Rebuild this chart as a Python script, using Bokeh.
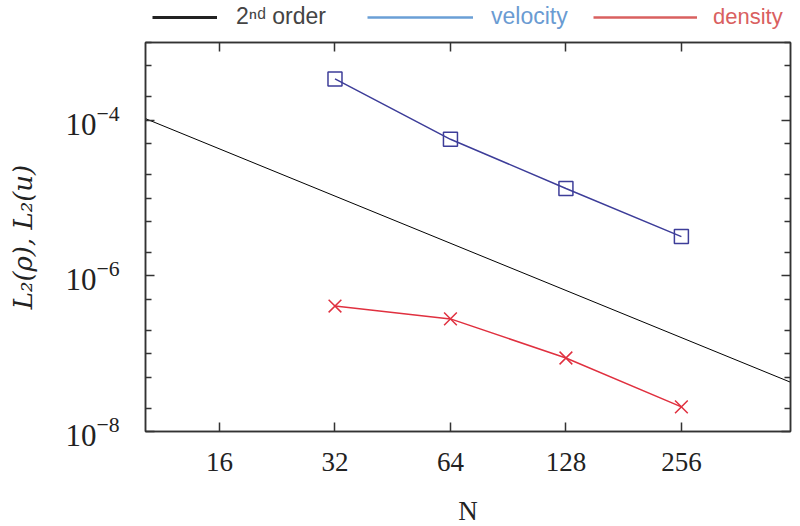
from bokeh.plotting import figure
from bokeh.layouts import column
from bokeh.models import (FixedTicker, LogAxis, LogTickFormatter, PrintfTickFormatter,
                          Legend, LegendItem, CustomJSTickFormatter)
from bokeh.embed import file_html
from bokeh.resources import INLINE

# ---- data ----
N = [32, 64, 128, 256]
velocity = [3.4e-4, 5.7e-5, 1.33e-5, 3.2e-6]
density = [4.1e-7, 2.8e-7, 8.8e-8, 2.07e-8]
ref_N = [10.26, 492.8]
ref_err = [1.05e-4, 4.3e-8]

x_ticks = [16, 32, 64, 128, 256]
y_major = [1e-8, 1e-6, 1e-4]
y_minor = [2e-8, 5e-8, 1e-7, 2e-7, 5e-7, 2e-6, 5e-6, 1e-5, 2e-5, 5e-5, 2e-4, 5e-4, 1e-3]

legend_labels = ["2\u207f\u1d48 order", "velocity", "density"]

AX = "#333333"
SERIF = "Liberation Serif"
SANS = "Liberation Sans"

p = figure(x_axis_type="log", y_axis_type="log",
           x_range=(10.26, 492.8), y_range=(1e-8, 1e-3),
           frame_width=645, frame_height=389,
           min_border_left=145, min_border_top=6, min_border_right=5, min_border_bottom=90,
           output_backend="svg", toolbar_location=None)
p.grid.visible = False
p.outline_line_color = AX
p.outline_line_width = 1.5
p.background_fill_color = "white"

xt = FixedTicker(ticks=x_ticks)
yt = FixedTicker(ticks=y_major, minor_ticks=y_minor)
blank = CustomJSTickFormatter(code="return ''")

def style(ax, ticker, labels=True):
    ax.ticker = ticker
    ax.axis_line_color = AX
    ax.axis_line_width = 1.5
    ax.major_tick_line_color = AX
    ax.major_tick_line_width = 1.5
    ax.minor_tick_line_color = AX
    ax.minor_tick_line_width = 1.5
    ax.major_tick_in = 9
    ax.major_tick_out = 0
    ax.minor_tick_in = 6
    ax.minor_tick_out = 0
    if not labels:
        ax.formatter = blank
        ax.major_label_standoff = 0

xa = p.xaxis[0]
style(xa, xt)
xa.formatter = PrintfTickFormatter(format="%d")
xa.major_label_text_font = SERIF
xa.major_label_text_font_size = "27px"
xa.major_label_text_color = "#222222"
xa.major_label_standoff = 21
xa.axis_label = "N"
xa.axis_label_text_font = SERIF
xa.axis_label_text_font_style = "normal"
xa.axis_label_text_font_size = "27px"
xa.axis_label_text_color = "#222222"
xa.axis_label_standoff = 22

ya = p.yaxis[0]
style(ya, yt)
ya.formatter = LogTickFormatter()
ya.major_label_text_font = SERIF
ya.major_label_text_font_size = "31px"
ya.major_label_text_color = "#222222"
ya.major_label_standoff = 26
ya.axis_label = "L\u2082(\u03c1), L\u2082(u)"
ya.axis_label_text_font = "DejaVu Serif"
ya.axis_label_text_font_style = "italic"
ya.axis_label_text_font_size = "26px"
ya.axis_label_text_color = "#222222"
ya.axis_label_standoff = 24

top = LogAxis()
style(top, xt, labels=False)
p.add_layout(top, "above")
right = LogAxis()
style(right, yt, labels=False)
p.add_layout(right, "right")

# ---- data marks ----
p.line(ref_N, ref_err, line_color="black", line_width=1)
p.line(N, velocity, line_color="#3d3d99", line_width=1.5)
p.scatter(N, velocity, marker="square", size=14, fill_color=None,
          line_color="#3d3d99", line_width=1.5)
p.line(N, density, line_color="#e0303f", line_width=1.5)
p.scatter(N, density, marker="x", size=18, line_color="#e0303f", line_width=1.5)

# ---- legend strip above the plot (frame aligned with the main frame) ----
lf = figure(width=795, height=36, min_border=0, toolbar_location=None,
            x_axis_location=None, y_axis_location=None,
            output_backend="svg", outline_line_color=None)
lf.grid.visible = False

nan = [float("nan")]
r0 = lf.line(nan, nan, line_color="#222222", line_width=3)
r1 = lf.line(nan, nan, line_color="#6a9fd6", line_width=2.5)
r2 = lf.line(nan, nan, line_color="#d9605f", line_width=2.5)

specs = [
    (r0, legend_labels[0], "#444444", 65, 7, 19, "23px"),
    (r1, legend_labels[1], "#6a9bd2", 106, 222, 18, "23px"),
    (r2, legend_labels[2], "#d9605f", 104, 448, 16, "22px"),
]
for r, lab, col, gw, x0, so, fs in specs:
    lg = Legend(items=[LegendItem(label=lab, renderers=[r], index=0)],
                location=(x0, 6), orientation="horizontal",
                glyph_width=gw, glyph_height=20, label_height=20,
                label_standoff=so, padding=0, margin=0, spacing=0,
                border_line_color=None, background_fill_alpha=0,
                label_text_font=SANS, label_text_font_size=fs,
                label_text_color=col)
    lf.add_layout(lg)

layout = column(lf, p, spacing=0)
open("out.html", "w").write(file_html(layout, INLINE))
